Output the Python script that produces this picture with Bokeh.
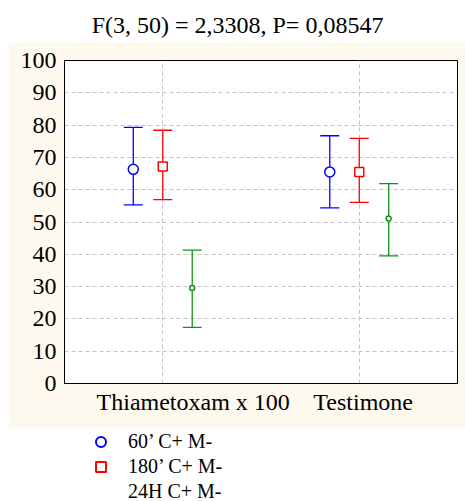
from bokeh.plotting import figure
from bokeh.models import (Range1d, FixedTicker, Whisker, ColumnDataSource, Label,
                          Legend, LegendItem, TeeHead)
from bokeh.layouts import column
from bokeh.embed import file_html
from bokeh.resources import INLINE

# ---------------- data ----------------
title_text = "F(3, 50) = 2,3308, P= 0,08547"
categories = ["Thiametoxam x 100", "Testimone"]
series_names = ["60\u2019 C+ M-", "180\u2019 C+ M-", "24H C+ M-"]

mean_60 = [66.3, 65.5]
low_60 = [55.3, 54.4]
high_60 = [79.3, 76.7]

mean_180 = [67.2, 65.5]
low_180 = [56.9, 56.1]
high_180 = [78.4, 75.9]

mean_24h = [29.6, 51.1]
low_24h = [17.4, 39.5]
high_24h = [41.3, 61.9]

y_ticks = [0, 10, 20, 30, 40, 50, 60, 70, 80, 90, 100]

# ---------------- layout / style ----------------
FONT = "Liberation Serif"
CREAM = "#fdf9ef"
BLUE = "#0000ff"
RED = "#ff0000"
GREEN = "#139313"
cat_x = [1, 2]
label_x = [1.155, 2.02]   # where the category labels sit under the axis
dodge = [-0.15, 0.0, 0.15]
BL, BR = 56, 8            # left / right borders shared by all three panels

# ---------------- title ----------------
t = figure(width=465, height=42, min_border=0, min_border_left=BL, min_border_right=BR,
           x_range=Range1d(0, 1), y_range=Range1d(0, 1),
           x_axis_location=None, y_axis_location=None,
           output_backend="svg", toolbar_location=None, outline_line_color=None,
           background_fill_color="white", border_fill_color="white")
t.grid.visible = False
t.add_layout(Label(x=237 - BL, y=18, x_units="screen", y_units="screen", text=title_text,
                   text_align="center", text_baseline="alphabetic", text_font=FONT,
                   text_font_size="24px", text_color="black"))

# ---------------- main plot ----------------
p = figure(width=457, height=386, x_range=Range1d(0.5, 2.5), y_range=Range1d(0, 100),
           output_backend="svg", toolbar_location=None,
           min_border_left=BL, min_border_right=BR, min_border_top=18, min_border_bottom=45,
           border_fill_color=CREAM, background_fill_color="white",
           outline_line_color="black", outline_line_width=1, margin=(0, 0, 0, 8))

p.yaxis.ticker = FixedTicker(ticks=y_ticks)
p.xaxis.ticker = FixedTicker(ticks=label_x)
p.xaxis.major_label_overrides = {label_x[i]: categories[i] for i in range(len(categories))}
p.xgrid.ticker = FixedTicker(ticks=cat_x)
p.ygrid.ticker = FixedTicker(ticks=y_ticks[1:-1])

for ax in (p.xaxis[0], p.yaxis[0]):
    ax.major_label_text_font = FONT
    ax.major_label_text_font_size = "24px"
    ax.major_label_text_color = "black"
    ax.major_tick_in = 0
    ax.major_tick_out = 0
    ax.minor_tick_in = 0
    ax.minor_tick_out = 0
    ax.axis_line_color = "black"
p.yaxis.major_label_standoff = 8
p.xaxis.major_label_standoff = 5

for g in (p.xgrid[0], p.ygrid[0]):
    g.grid_line_color = "#c4c4c4"
    g.grid_line_dash = "4 3"
    g.grid_line_width = 1

series = [
    (mean_60, low_60, high_60, BLUE, "circle", 10),
    (mean_180, low_180, high_180, RED, "square", 9),
    (mean_24h, low_24h, high_24h, GREEN, "circle", 5),
]

sources = []
for k, (m, lo, hi, col, mk, sz) in enumerate(series):
    xs = [c + dodge[k] for c in cat_x]
    src = ColumnDataSource(dict(x=xs, mean=m, lower=lo, upper=hi))
    sources.append(src)
    w = Whisker(source=src, base="x", lower="lower", upper="upper", dimension="height",
                line_color=col, line_width=1.3,
                upper_head=TeeHead(size=19, line_color=col, line_width=1.3),
                lower_head=TeeHead(size=19, line_color=col, line_width=1.3))
    p.add_layout(w)
    p.scatter(x="x", y="mean", source=src, marker=mk, size=sz, line_color=col,
              fill_color="white", line_width=1.5)

# ---------------- legend ----------------
lg = figure(width=465, height=73, min_border=0, min_border_left=BL, min_border_right=BR,
            x_range=Range1d(0, 1), y_range=Range1d(0, 1),
            x_axis_location=None, y_axis_location=None,
            output_backend="svg", toolbar_location=None, outline_line_color=None,
            background_fill_color="white", border_fill_color="white")
lg.grid.visible = False
# legend swatches reuse the series sources (their points lie outside this figure's view)
r1 = lg.scatter(x="x", y="mean", source=sources[0], marker="circle", line_color=BLUE,
                fill_color="white", line_width=2)
r2 = lg.scatter(x="x", y="mean", source=sources[1], marker="square", line_color=RED,
                fill_color="white", line_width=2)
r3 = lg.scatter(x="x", y="mean", source=sources[2], marker="circle", line_color=GREEN,
                fill_color="white", line_alpha=0, fill_alpha=0)
legend = Legend(items=[LegendItem(label=series_names[0], renderers=[r1]),
                       LegendItem(label=series_names[1], renderers=[r2]),
                       LegendItem(label=series_names[2], renderers=[r3])],
                location=(88 - BL, -3), orientation="vertical",
                glyph_width=25, glyph_height=25, label_height=25, spacing=0,
                padding=0, margin=0, border_line_color=None, background_fill_alpha=0,
                label_text_font=FONT, label_text_font_size="20px", label_standoff=15,
                label_text_color="black")
lg.add_layout(legend)

layout = column(t, p, lg, spacing=0)
open("out.html", "w").write(file_html(layout, INLINE))
